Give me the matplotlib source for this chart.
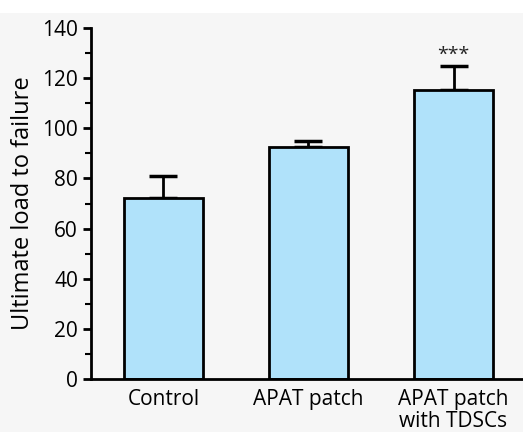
import matplotlib
matplotlib.use("Agg")
import matplotlib.pyplot as plt
from matplotlib.ticker import MultipleLocator
from matplotlib.patches import Rectangle

categories = ["Control", "APAT patch", "APAT patch\nwith TDSCs"]
means = [72.2, 92.5, 115.3]
errors = [8.8, 2.5, 9.7]
significance = ["", "", "***"]

plt.rcParams['font.family'] = ['Open Sans', 'DejaVu Sans']

fig = plt.figure(figsize=(5.23, 4.32), dpi=100)
fig.patch.set_facecolor('#f6f6f6')
fig.patches.append(Rectangle((0, 1 - 13/432), 1, 13/432, transform=fig.transFigure,
                             facecolor='white', edgecolor='none', zorder=0))

ax = fig.add_axes([90.5/523, 53/432, 1 - 90.5/523, (379 - 28)/432])
ax.set_facecolor('none')

x = list(range(len(categories)))
ax.bar(x, means, width=0.55, color='#b0e2fa', edgecolor='black', linewidth=2, zorder=2)
ax.errorbar(x, means, yerr=[[0]*len(errors), errors], fmt='none', ecolor='black',
            elinewidth=2, capsize=10, capthick=2.5, zorder=1)

for xi, m, e, s in zip(x, means, errors, significance):
    if s:
        ax.text(xi, m + e + 0.8, s, ha='center', va='bottom', fontsize=14,
                color='#222222')

ax.set_xlim(-0.503, 2.479)
ax.set_ylim(0, 140)
ax.yaxis.set_major_locator(MultipleLocator(20))
ax.yaxis.set_minor_locator(MultipleLocator(10))
ax.set_xticks(x)
ax.set_xticklabels(categories, fontsize=15, linespacing=1.05)
ax.tick_params(axis='y', labelsize=15, width=2, length=6, pad=3)
ax.tick_params(axis='y', which='minor', width=1.5, length=4)
ax.tick_params(axis='x', length=0, pad=7)
ax.set_ylabel("Ultimate load to failure", fontsize=17, labelpad=5)

for side in ['top', 'right']:
    ax.spines[side].set_visible(False)
for side in ['left', 'bottom']:
    ax.spines[side].set_linewidth(2)

fig.savefig("out.png", dpi=100, facecolor=fig.get_facecolor())
